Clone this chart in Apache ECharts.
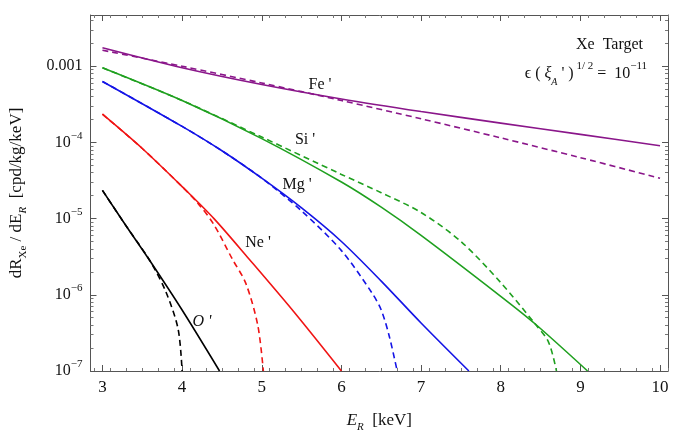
<!DOCTYPE html>
<html><head><meta charset="utf-8">
<script src="https://cdn.jsdelivr.net/npm/echarts@6/dist/echarts.min.js"></script>
<style>html,body{margin:0;padding:0;background:#fff}#c{width:676px;height:438px}</style>
</head><body><div id="c"></div>
<script>
// values, stored as log10(dR/dE)
const feSolidX=[3,4,5,6,7,8,9,10];
const feSolidLog=[-2.758,-3.02,-3.24,-3.43,-3.595,-3.747,-3.895,-4.044];
const feDashX=[3,4,5,6,7,8,9,10];
const feDashLog=[-2.79,-3.0,-3.22,-3.45,-3.69,-3.94,-4.2,-4.47];
const siSolidX=[3,4,5,6,6.5,7,8,8.43,9.09];
const siSolidLog=[-3.02,-3.45,-3.95,-4.52,-4.85,-5.22,-6.02,-6.38,-7];
const siDashX=[3,4,5,6,6.5,7,7.5,8,8.43,8.6,8.7];
const siDashLog=[-3.02,-3.45,-3.93,-4.42,-4.66,-4.92,-5.3,-5.84,-6.38,-6.62,-7];
const mgSolidX=[3,4,4.5,5,5.5,6,6.5,7,7.6];
const mgSolidLog=[-3.20,-3.79,-4.11,-4.47,-4.86,-5.30,-5.82,-6.37,-7];
const mgDashX=[3,4,4.5,5,5.5,6,6.38,6.5,6.6,6.7];
const mgDashLog=[-3.20,-3.79,-4.11,-4.47,-4.90,-5.42,-5.97,-6.2,-6.54,-7];
const neSolidX=[3,3.5,4,4.4,4.84,5.4,6];
const neSolidLog=[-3.63,-4.08,-4.58,-5.0,-5.53,-6.22,-7];
const neDashX=[3,3.5,4,4.2,4.4,4.63,4.8,4.95,5.02];
const neDashLog=[-3.63,-4.08,-4.58,-4.80,-5.08,-5.53,-5.85,-6.40,-7];
const oSolidX=[3,3.3,3.6,4,4.47];
const oSolidLog=[-4.63,-5.1,-5.56,-6.2,-7];
const oDashX=[3,3.3,3.6,3.8,3.95,4.0];
const oDashLog=[-4.63,-5.1,-5.56,-5.97,-6.45,-7];
const xTicks=[3,4,5,6,7,8,9,10];
const yTicks=[1e-7,1e-6,1e-5,1e-4,1e-3];
const yTickLabels=['{b|10}{s|−7}','{b|10}{s|−6}','{b|10}{s|−5}','{b|10}{s|−4}','{b|0.001}'];

const F='Liberation Serif, DejaVu Serif, serif';
const pts=(xs,ls)=>xs.map((x,i)=>[x,Math.pow(10,ls[i])]);
const xMinor=[];for(let v=2.9;v<10.1;v+=0.2){xMinor.push(+v.toFixed(2));}
const yMinor=[];for(let e=-7;e<=-3;e++){for(let m=2;m<=9;m++){const v=m*Math.pow(10,e);if(v<0.0047)yMinor.push(v);}}
const purple='#8a168a',green='#1fa01f',blue='#1414e6',red='#f01414',black='#000';
function line(xs,ls,c,dash){return {type:'line',data:pts(xs,ls),smooth:0.3,symbol:'none',xAxisIndex:0,yAxisIndex:0,
 lineStyle:{color:c,width:1.6,type:dash?[6,4]:'solid'},z:dash?3:4};}
const base={min:2.85,max:10.1,type:'value',splitLine:{show:false}};
const ybase={type:'log',min:1e-7,max:0.0047,splitLine:{show:false}};
const chart=echarts.init(document.getElementById('c'));
chart.setOption({
 animation:false,
 grid:{left:87,right:8,top:15,bottom:66},
 xAxis:[
  Object.assign({},base,{position:'bottom',axisLine:{show:true,lineStyle:{color:'#555'}},
   axisTick:{inside:true,length:6,customValues:xTicks,lineStyle:{color:'#555'}},
   axisLabel:{customValues:xTicks,color:'#111',fontFamily:F,fontSize:17,margin:8},
   name:'{i|E}{s|R}{b|  [keV]}',nameLocation:'middle',nameGap:38,
   nameTextStyle:{rich:{i:{fontFamily:F,fontStyle:'italic',fontSize:17,color:'#111',lineHeight:24},s:{fontFamily:F,fontStyle:'italic',fontSize:11,color:'#111',verticalAlign:'bottom',lineHeight:24},b:{fontFamily:F,fontSize:17,color:'#111',lineHeight:24}}}}),
  Object.assign({},base,{position:'bottom',axisLine:{show:false},axisTick:{inside:true,length:3,customValues:xMinor,lineStyle:{color:'#777'}},axisLabel:{show:false}}),
  Object.assign({},base,{position:'top',axisLine:{show:true,lineStyle:{color:'#555'}},axisTick:{inside:true,length:6,customValues:xTicks,lineStyle:{color:'#555'}},axisLabel:{show:false}}),
  Object.assign({},base,{position:'top',axisLine:{show:false},axisTick:{inside:true,length:3,customValues:xMinor,lineStyle:{color:'#777'}},axisLabel:{show:false}})
 ],
 yAxis:[
  Object.assign({},ybase,{position:'left',axisLine:{show:true,lineStyle:{color:'#555'}},
   axisTick:{inside:true,length:6,customValues:yTicks,lineStyle:{color:'#555'}},
   axisLabel:{customValues:yTicks,margin:8,formatter:(v)=>{const i=yTicks.findIndex(t=>Math.abs(Math.log10(t)-Math.log10(v))<0.01);return i>=0?yTickLabels[i]:'';},
    rich:{b:{fontFamily:F,fontSize:16,color:'#111',lineHeight:24},s:{fontFamily:F,fontSize:11,color:'#111',verticalAlign:'top',lineHeight:24}}},
   name:'{b|dR}{s|Xe}{b| / dE}{si|R}{b|  [cpd/kg/keV]}',nameLocation:'middle',nameGap:62,nameRotate:90,
   nameTextStyle:{rich:{b:{fontFamily:F,fontSize:17,color:'#111',lineHeight:24},s:{fontFamily:F,fontSize:11,color:'#111',verticalAlign:'bottom',lineHeight:24},si:{fontFamily:F,fontStyle:'italic',fontSize:11,color:'#111',verticalAlign:'bottom',lineHeight:24}}}}),
  Object.assign({},ybase,{position:'left',axisLine:{show:false},axisTick:{inside:true,length:3,customValues:yMinor,lineStyle:{color:'#777'}},axisLabel:{show:false}}),
  Object.assign({},ybase,{position:'right',axisLine:{show:true,lineStyle:{color:'#555'}},axisTick:{inside:true,length:6,customValues:yTicks,lineStyle:{color:'#555'}},axisLabel:{show:false}}),
  Object.assign({},ybase,{position:'right',axisLine:{show:false},axisTick:{inside:true,length:3,customValues:yMinor,lineStyle:{color:'#777'}},axisLabel:{show:false}})
 ],
 series:[
  line(feSolidX,feSolidLog,purple,false),line(feDashX,feDashLog,purple,true),
  line(siSolidX,siSolidLog,green,false),line(siDashX,siDashLog,green,true),
  line(mgSolidX,mgSolidLog,blue,false),line(mgDashX,mgDashLog,blue,true),
  line(neSolidX,neSolidLog,red,false),line(neDashX,neDashLog,red,true),
  line(oSolidX,oSolidLog,black,false),line(oDashX,oDashLog,black,true)
 ],
 graphic:[
  {type:'text',x:320,y:85,style:{text:"Fe '",font:'16px '+F,fill:'#111',align:'center',verticalAlign:'middle'}},
  {type:'text',x:305,y:140,style:{text:"Si '",font:'16px '+F,fill:'#111',align:'center',verticalAlign:'middle'}},
  {type:'text',x:297,y:185,style:{text:"Mg '",font:'16px '+F,fill:'#111',align:'center',verticalAlign:'middle'}},
  {type:'text',x:258,y:243,style:{text:"Ne '",font:'16px '+F,fill:'#111',align:'center',verticalAlign:'middle'}},
  {type:'text',x:202,y:322,style:{text:"O '",font:'italic 16px '+F,fill:'#111',align:'center',verticalAlign:'middle'}},
  {type:'text',x:643,y:45,style:{text:'Xe  Target',font:'16px '+F,fill:'#111',align:'right',verticalAlign:'middle'}},
  {type:'text',x:647,y:74,style:{text:"{b|ϵ ( }{g|ξ}{s|A}{b| ' )}{u| 1/ 2}{b| =  10}{u|−11}",align:'right',verticalAlign:'middle',
    rich:{b:{fontFamily:F,fontSize:16,fill:'#111',lineHeight:26},g:{fontFamily:F,fontStyle:'italic',fontSize:16,fill:'#111',lineHeight:26},
     s:{fontFamily:F,fontStyle:'italic',fontSize:10,fill:'#111',verticalAlign:'bottom',lineHeight:26},
     u:{fontFamily:F,fontSize:11,fill:'#111',verticalAlign:'top',lineHeight:26}}}}
 ]
});
</script></body></html>
